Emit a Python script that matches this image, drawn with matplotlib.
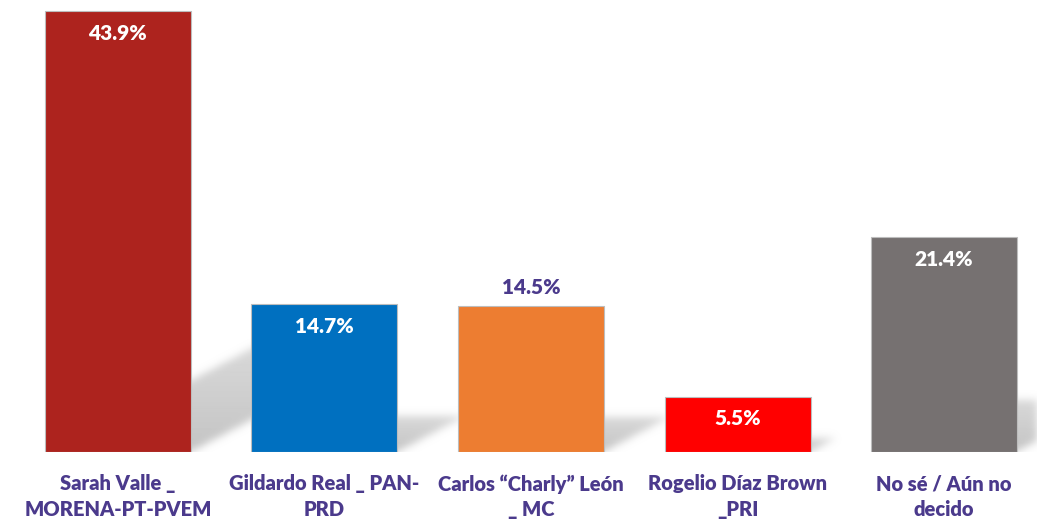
import numpy as np
import matplotlib.pyplot as plt
from matplotlib.colors import to_rgb

# Datos
candidatos = ['Sarah Valle _\nMORENA-PT-PVEM', 'Gildardo Real _ PAN-\nPRD',
              'Carlos \u201cCharly\u201d León\n_ MC', 'Rogelio Díaz Brown\n_PRI',
              'No sé / Aún no\ndecido']
valores = [43.9, 14.7, 14.5, 5.5, 21.4]
colores = ['#AD231E', '#0070C0', '#ED7D31', '#FF0000', '#767171']
etiqueta_fuera = [False, False, True, False, False]

morado = '#4B3A8C'
plt.rcParams['font.family'] = ['Lato', 'DejaVu Sans']

fig = plt.figure(figsize=(10.37, 5.22), dpi=100)
ax = fig.add_axes([0, 0.134, 1, 0.866])

x = np.arange(len(valores))
ancho = 0.707
xlim = (-0.571, 4.450)
ylim = (0, 45)

# Sombras difuminadas: paralelogramo inclinado detrás de cada barra
nx, ny = 1037, 452
gx = np.linspace(xlim[0], xlim[1], nx)
gy = np.linspace(ylim[0], ylim[1], ny)
GX, GY = np.meshgrid(gx, gy)
mask = np.zeros_like(GX)
for xi, v in zip(x, valores):
    h = 0.24 * v
    dx = 0.0222 * v
    t = GY / h
    izq = xi - ancho / 2 + 0.05 + dx * t
    der = xi + ancho / 2 + dx * t
    dentro = (GY <= h) & (GX >= izq) & (GX <= der)
    mask = np.maximum(mask, np.where(dentro, 1.0 - 0.35 * t, 0.0))

sigma = 4.0
k = np.arange(-12, 13)
kern = np.exp(-k**2 / (2 * sigma**2))
kern /= kern.sum()
mask = np.apply_along_axis(lambda r: np.convolve(r, kern, mode='same'), 1, mask)
mask = np.apply_along_axis(lambda c: np.convolve(c, kern, mode='same'), 0, mask)

img = np.zeros((ny, nx, 4))
img[..., :3] = to_rgb('#c4c4c4')
img[..., 3] = np.clip(mask, 0, 1)
ax.imshow(img, extent=(xlim[0], xlim[1], ylim[0], ylim[1]), origin='lower',
          aspect='auto', zorder=1, interpolation='bilinear')

ax.bar(x, valores, width=ancho, color=colores, edgecolor='#bdbdbd',
       linewidth=0.8, zorder=3)

for xi, v, fuera in zip(x, valores, etiqueta_fuera):
    if fuera:
        ax.text(xi, v + 1.9, f'{v}%', ha='center', va='center', fontsize=15,
                fontweight='heavy', color=morado, zorder=4)
    else:
        ax.text(xi, v - 2.2, f'{v}%', ha='center', va='center', fontsize=15,
                fontweight='heavy', color='white', zorder=4)

ax.set_xlim(*xlim)
ax.set_ylim(*ylim)
ax.set_xticks(x)
ax.set_xticklabels(candidatos, fontsize=14.5, fontweight='heavy', color=morado,
                   linespacing=1.4)
ax.tick_params(axis='x', length=0, pad=16)
ax.set_yticks([])
for s in ax.spines.values():
    s.set_visible(False)

fig.savefig('out.png', dpi=100)
